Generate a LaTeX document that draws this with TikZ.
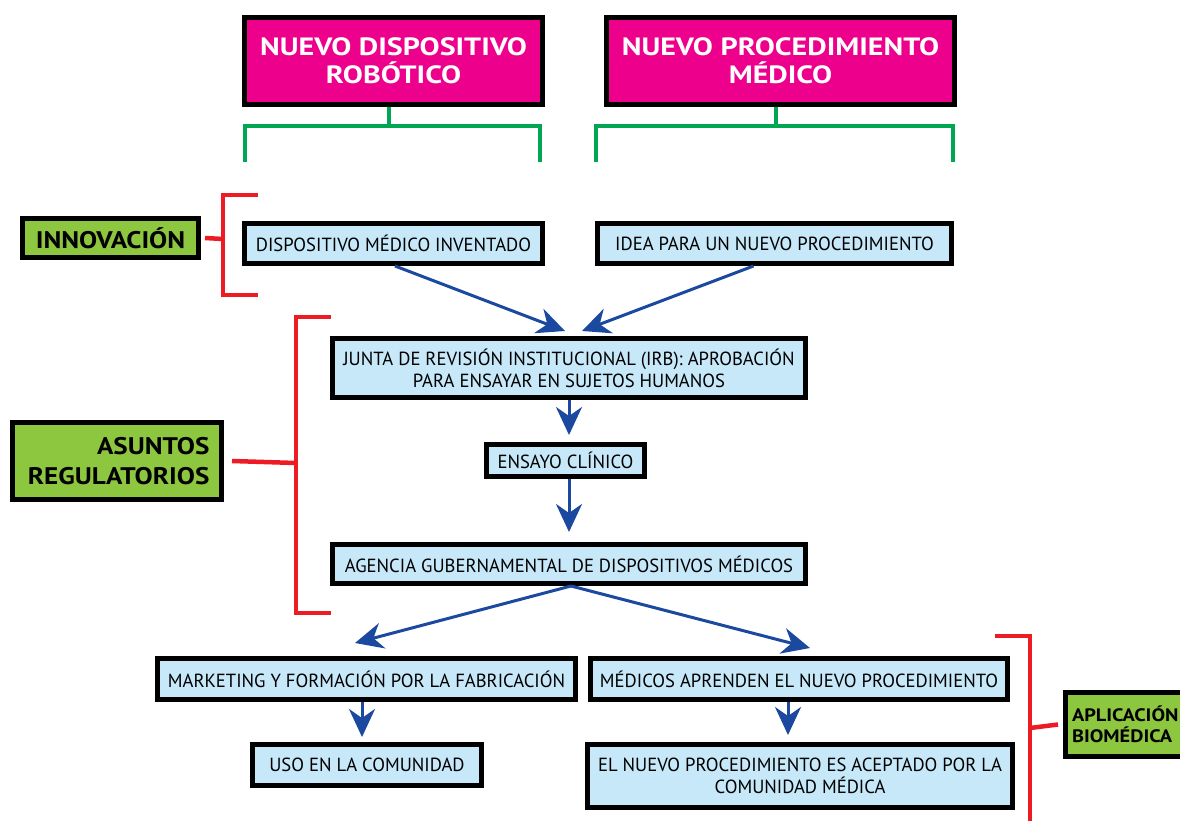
\documentclass[tikz,border=0pt]{standalone}
\usepackage{fontspec}
\setmainfont{PT Sans}[FakeStretch=0.98]
\newfontfamily\titlef{PT Sans}[FakeStretch=1.2]
\newfontfamily\labf{PT Sans}[FakeStretch=1.13]
\usetikzlibrary{arrows.meta}
\definecolor{magentaC}{HTML}{EC008C}
\definecolor{greenF}{HTML}{8DC63F}
\definecolor{blueF}{HTML}{C7E8F9}
\definecolor{arrowC}{HTML}{1B49A0}
\definecolor{redC}{HTML}{ED1C24}
\definecolor{greenL}{HTML}{00A651}
\tikzset{
  pinkbox/.style={draw=black, line width=5pt, fill=magentaC, text=white, align=center, inner sep=0pt,
    font=\titlef\bfseries\fontsize{25}{28}\selectfont},
  bluebox/.style={draw=black, line width=5pt, fill=blueF, text=black, align=center, inner sep=0pt,
    font=\fontsize{19}{22}\selectfont},
  greenbox/.style={draw=black, line width=5pt, fill=greenF, text=black, inner sep=0pt,
    font=\labf\bfseries\fontsize{24}{30}\selectfont},
  flow/.style={draw=arrowC, line width=3pt, -{Stealth[length=28pt,width=26pt,inset=9pt]}},
  redbr/.style={draw=redC, line width=4.5pt},
  greenbr/.style={draw=greenL, line width=4.5pt},
}
\begin{document}
\begin{tikzpicture}[x=1pt,y=-1pt]
\useasboundingbox (0,0) rectangle (1180,821);
\clip (0,0) rectangle (1180,821);
% pink titles
\node[pinkbox, minimum width=298pt, minimum height=87pt] (p1) at (393.5,61) {NUEVO DISPOSITIVO\\ROBÓTICO};
\node[pinkbox, minimum width=348pt, minimum height=87pt] (p2) at (780.5,61) {NUEVO PROCEDIMIENTO\\MÉDICO};
% green brackets
\draw[greenbr] (389,107) -- (389,126);
\draw[greenbr] (245,162) -- (245,126) -- (540,126) -- (540,162);
\draw[greenbr] (776,107) -- (776,126);
\draw[greenbr] (596,162) -- (596,126) -- (953,126) -- (953,162);
% innovation
\node[greenbox, minimum width=176pt, minimum height=39pt] (innov) at (110.5,238) {INNOVACIÓN};
\draw[redbr] (258,195) -- (223,195) -- (223,295) -- (258,295);
\draw[redbr] ([xshift=4pt]innov.east) -- (223,239);
\node[bluebox, minimum width=298pt, minimum height=40pt] (dmi) at (393.5,243.5) {DISPOSITIVO MÉDICO INVENTADO};
\node[bluebox, minimum width=354pt, minimum height=40pt] (idea) at (774.5,243.5) {IDEA PARA UN NUEVO PROCEDIMIENTO};
% regulatory
\node[greenbox, minimum width=209pt, minimum height=77pt, text width=185pt, align=right, inner xsep=12pt] (asuntos) at (117,461) {ASUNTOS\\REGULATORIOS};
\draw[redbr] (331,317) -- (296,317) -- (296,613) -- (331,613);
\draw[redbr] ([xshift=8pt]asuntos.east) -- (296,463);
\node[bluebox, minimum width=473pt, minimum height=59pt] (junta) at (569,368) {JUNTA DE REVISIÓN INSTITUCIONAL (IRB): APROBACIÓN\\PARA ENSAYAR EN SUJETOS HUMANOS};
\node[bluebox, minimum width=158pt, minimum height=32pt] (ensayo) at (565.5,460.5) {ENSAYO CLÍNICO};
\node[bluebox, minimum width=473pt, minimum height=39pt] (agencia) at (569,564) {AGENCIA GUBERNAMENTAL DE DISPOSITIVOS MÉDICOS};
% application
\node[bluebox, minimum width=418pt, minimum height=41pt] (mkt) at (366.5,679) {MARKETING Y FORMACIÓN POR LA FABRICACIÓN};
\node[bluebox, minimum width=229pt, minimum height=41pt] (uso) at (367,765) {USO EN LA COMUNIDAD};
\node[bluebox, minimum width=417pt, minimum height=41pt] (med) at (799,679) {MÉDICOS APRENDEN EL NUEVO PROCEDIMIENTO};
\node[bluebox, minimum width=425pt, minimum height=63pt] (acep) at (800,776) {EL NUEVO PROCEDIMIENTO ES ACEPTADO POR LA\\COMUNIDAD MÉDICA};
\node[greenbox, minimum width=153pt, minimum height=64pt, text width=140pt, align=left, inner xsep=6.5pt,
  font=\labf\bfseries\fontsize{18}{21}\selectfont] (aplic) at (1142,724.5) {APLICACIÓN\\BIOMÉDICA};
\draw[redbr] (995,636) -- (1030,636) -- (1030,830);
\draw[redbr] (1030,728) -- ([xshift=-5pt]aplic.west);
% arrows
\draw[flow] ([xshift=1.5pt]dmi.south) -- ([xshift=-4pt,yshift=5pt]junta.north);
\draw[flow] ([xshift=-21pt]idea.south) -- ([xshift=13pt,yshift=5pt]junta.north);
\draw[flow] (junta.south) -- ([yshift=7pt]junta.south |- ensayo.north);
\draw[flow] (agencia.north |- ensayo.south) -- ([yshift=10pt]agencia.north);
\draw[flow] ([xshift=2pt]agencia.south) -- ([xshift=-11.5pt,yshift=13pt]mkt.north);
\draw[flow] ([xshift=2pt]agencia.south) -- ([xshift=11pt,yshift=8pt]med.north);
\draw[flow] ([xshift=-4.5pt]mkt.south) -- ([xshift=-5pt,yshift=5pt]uso.north);
\draw[flow] ([xshift=-11pt]med.south) -- ([xshift=-12pt,yshift=7pt]acep.north);
\end{tikzpicture}
\end{document}
